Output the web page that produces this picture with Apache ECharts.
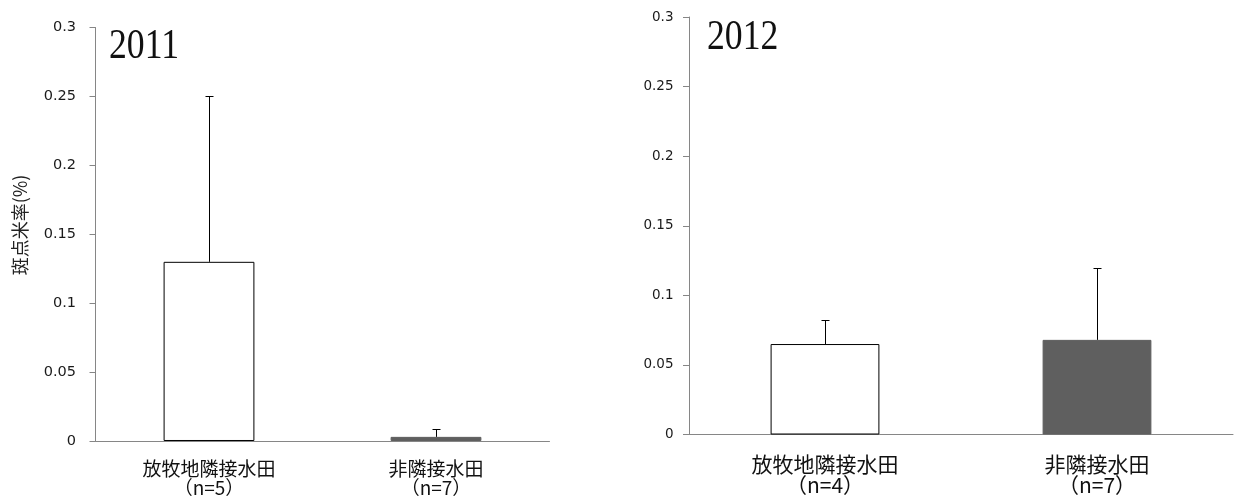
<!DOCTYPE html>
<html>
<head>
<meta charset="utf-8">
<script src="https://cdn.jsdelivr.net/npm/echarts@6/dist/echarts.min.js"></script>
<style>
html,body{margin:0;padding:0;background:#fff;}
#c{width:1236px;height:497px;}
</style>
</head>
<body>
<div id="c"></div>
<script>
// ---- data ----
const years = ['2011', '2012'];
const categories = ['放牧地隣接水田', '非隣接水田'];
const n2011 = [5, 7];
const n2012 = [4, 7];
const mean2011 = [0.13, 0.003];
const err2011 = [0.12, 0.006];
const mean2012 = [0.065, 0.068];
const err2012 = [0.017, 0.052];
const yMin = 0, yMax = 0.3, yStep = 0.05;
const yAxisName = '斑点米率(%)';
const barColors = ['#ffffff', '#5f5f5f'];
const barBorders = ['#000000', '#5f5f5f'];

function catLabels(ns) {
  return categories.map((c, i) => c + '\n（n=' + ns[i] + '）');
}
function barData(means) {
  return means.map((v, i) => ({
    value: v,
    itemStyle: { color: barColors[i], borderColor: barBorders[i], borderWidth: 1 }
  }));
}
function errData(means, errs) {
  return means.map((v, i) => [i, v, errs[i]]);
}
function renderErr(params, api) {
  const x = api.value(0), m = api.value(1), e = api.value(2);
  const p0 = api.coord([x, m]);
  const p1 = api.coord([x, m + e]);
  const cx = Math.round(p0[0]) + 0.5;
  const y1 = Math.round(p1[1]) + 0.5;
  const cap = 4;
  const st = { stroke: '#000', lineWidth: 1 };
  return {
    type: 'group',
    children: [
      { type: 'line', shape: { x1: cx, y1: p0[1], x2: cx, y2: y1 }, style: st },
      { type: 'line', shape: { x1: cx - cap, y1: y1, x2: cx + cap, y2: y1 }, style: st }
    ]
  };
}

const axisGray = '#868686';
function makeX(idx, ns, fs, lh, margin) {
  return {
    type: 'category', gridIndex: idx, data: catLabels(ns),
    axisLine: { lineStyle: { color: axisGray, width: 1 } },
    axisTick: { length: 6, lineStyle: { color: axisGray } },
    axisLabel: {
      interval: 0, margin: margin, color: '#111',
      fontFamily: '"Noto Sans CJK JP"', fontSize: fs, lineHeight: lh
    }
  };
}
function makeY(idx, fs, margin) {
  return {
    type: 'value', gridIndex: idx, min: yMin, max: yMax, interval: yStep,
    splitLine: { show: false },
    axisLine: { show: true, lineStyle: { color: axisGray, width: 1 } },
    axisTick: { show: true, length: 6, lineStyle: { color: axisGray } },
    axisLabel: { color: '#1a1a1a', fontFamily: '"DejaVu Sans"', fontSize: fs, margin: margin }
  };
}

const chart = echarts.init(document.getElementById('c'), null, { renderer: 'canvas' });
chart.setOption({
  animation: false,
  backgroundColor: '#ffffff',
  grid: [
    { left: 95.5, right: 686.5, top: 27.5, bottom: 53 },
    { left: 689, right: 3, top: 17, bottom: 62.5 }
  ],
  xAxis: [
    makeX(0, n2011, 19, 19, 18),
    makeX(1, n2012, 21, 21, 19)
  ],
  yAxis: [
    makeY(0, 14.5, 19.5),
    makeY(1, 13.5, 15.5)
  ],
  series: [
    { type: 'bar', xAxisIndex: 0, yAxisIndex: 0, barWidth: '40%', data: barData(mean2011) },
    { type: 'custom', xAxisIndex: 0, yAxisIndex: 0, renderItem: renderErr,
      encode: { x: 0, y: 1 }, data: errData(mean2011, err2011), z: 5 },
    { type: 'bar', xAxisIndex: 1, yAxisIndex: 1, barWidth: '40%', data: barData(mean2012) },
    { type: 'custom', xAxisIndex: 1, yAxisIndex: 1, renderItem: renderErr,
      encode: { x: 0, y: 1 }, data: errData(mean2012, err2012), z: 5 }
  ],
  graphic: [
    { type: 'text', x: 109, y: 47, scaleX: 0.85,
      style: { text: years[0], x: 0, y: 0, font: '42px "Liberation Serif"', fill: '#111',
               align: 'left', verticalAlign: 'middle' } },
    { type: 'text', x: 707, y: 37.5, scaleX: 0.85,
      style: { text: years[1], x: 0, y: 0, font: '42px "Liberation Serif"', fill: '#111',
               align: 'left', verticalAlign: 'middle' } },
    { type: 'text', x: 20, y: 225, rotation: Math.PI / 2,
      style: { text: yAxisName, x: 0, y: 0, font: '18px "Noto Sans CJK JP"', fill: '#222',
               align: 'center', verticalAlign: 'middle' } }
  ]
});
</script>
</body>
</html>
